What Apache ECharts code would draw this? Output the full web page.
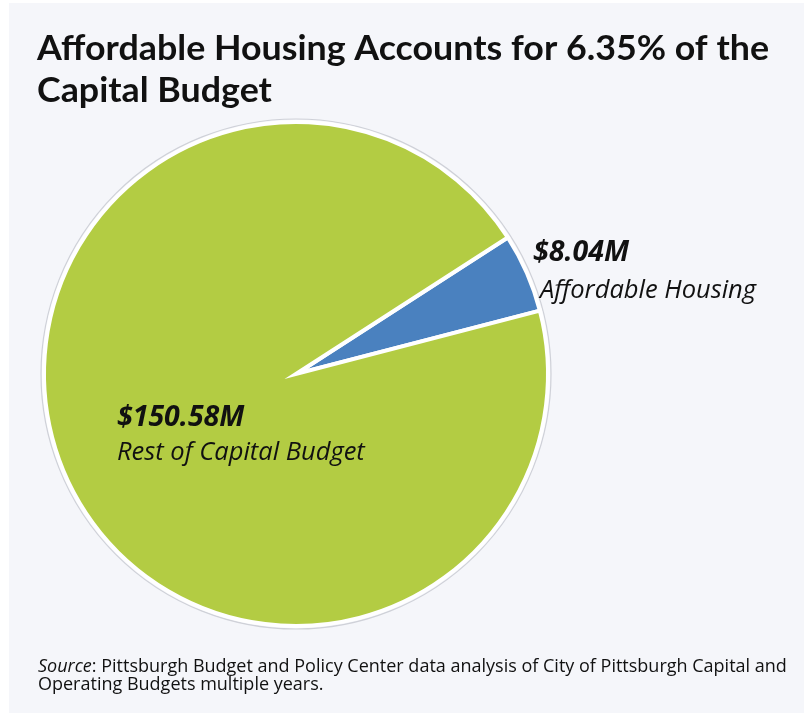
<!DOCTYPE html>
<html>
<head>
<meta charset="utf-8">
<script src="https://cdn.jsdelivr.net/npm/echarts@6/dist/echarts.min.js"></script>
<style>
html,body{margin:0;padding:0;background:#ffffff;}
#chart{width:804px;height:713px;}
</style>
</head>
<body>
<div id="chart"></div>
<script>
// ---- data ----
var titleLines = ['Affordable Housing Accounts for 6.35% of the', 'Capital Budget'];
var categories = ['Affordable Housing', 'Rest of Capital Budget'];
var valueLabels = ['$8.04M', '$150.58M'];
var values = [8.04, 150.58];
var sourceLines = ['Pittsburgh Budget and Policy Center data analysis of City of Pittsburgh Capital and', 'Operating Budgets multiple years.'];

// ---- styles / layout ----
var colors = ['#4a81bf', '#b3cc43'];
var labelPos = [{x: 533, y: 234}, {x: 117, y: 400}];
var labelLineHeights = [38, 35];
var labelNameIndent = [7, 0];
var titleFontSpec = 'bold 35px Lato, "Noto Sans", sans-serif';
var titleLeft = 37, titleTops = [31, 73], titleLine1Width = 732;
var bodyFont = '"Open Sans", Lato, sans-serif';

// condense the title to match the reference's narrow bold face
var ctx = document.createElement('canvas').getContext('2d');
ctx.font = titleFontSpec;
var titleScaleX = titleLine1Width / ctx.measureText(titleLines[0]).width;

var chart = echarts.init(document.getElementById('chart'), null, {renderer: 'canvas'});

var seriesData = categories.map(function (c, i) {
  return {
    name: c,
    value: values[i],
    valueLabel: valueLabels[i],
    itemStyle: {color: colors[i]},
    label: {
      rich: {
        v: {fontFamily: bodyFont, fontStyle: 'italic', fontWeight: 'bold', fontSize: 28.5, lineHeight: labelLineHeights[i], color: '#111111', align: 'left'},
        n: {fontFamily: bodyFont, fontStyle: 'italic', fontSize: 25.5, lineHeight: labelLineHeights[i], color: '#111111', align: 'left', padding: [0, 0, 0, labelNameIndent[i]]}
      }
    }
  };
});

var graphics = [
  {type: 'rect', z: -10, shape: {x: 9, y: 3, width: 800, height: 715}, style: {fill: '#f5f6fa'}},
  {type: 'circle', z: -5, shape: {cx: 296, cy: 374, r: 255}, style: {fill: 'none', stroke: '#cfd1d8', lineWidth: 1.2}}
];
titleLines.forEach(function (t, i) {
  graphics.push({
    type: 'text', z: 10,
    x: titleLeft, y: titleTops[i],
    scaleX: titleScaleX,
    style: {text: t, font: titleFontSpec, fill: '#111111', align: 'left', verticalAlign: 'top'}
  });
});

chart.setOption({
  backgroundColor: '#ffffff',
  animation: false,
  graphic: graphics,
  title: [
    {
      text: '{i|Source}: ' + sourceLines.join('\n'),
      left: 38, top: 658, padding: 0,
      textStyle: {
        fontFamily: bodyFont, fontSize: 18, fontWeight: 'normal', lineHeight: 18, color: '#111111',
        rich: {i: {fontFamily: bodyFont, fontStyle: 'italic', fontSize: 18, color: '#111111'}}
      }
    }
  ],
  series: [{
    type: 'pie',
    center: [296, 374],
    radius: 252,
    startAngle: 32.8,
    clockwise: true,
    silent: true,
    data: seriesData,
    itemStyle: {borderColor: '#ffffff', borderWidth: 4, borderJoin: 'miter', borderMiterLimit: 20},
    labelLine: {show: false},
    label: {
      show: true,
      position: 'inside',
      formatter: function (p) { return '{v|' + p.data.valueLabel + '}\n{n|' + p.name + '}'; }
    },
    labelLayout: function (p) {
      var pos = labelPos[p.dataIndex];
      return {x: pos.x, y: pos.y, align: 'left', verticalAlign: 'top'};
    }
  }]
});
</script>
</body>
</html>
